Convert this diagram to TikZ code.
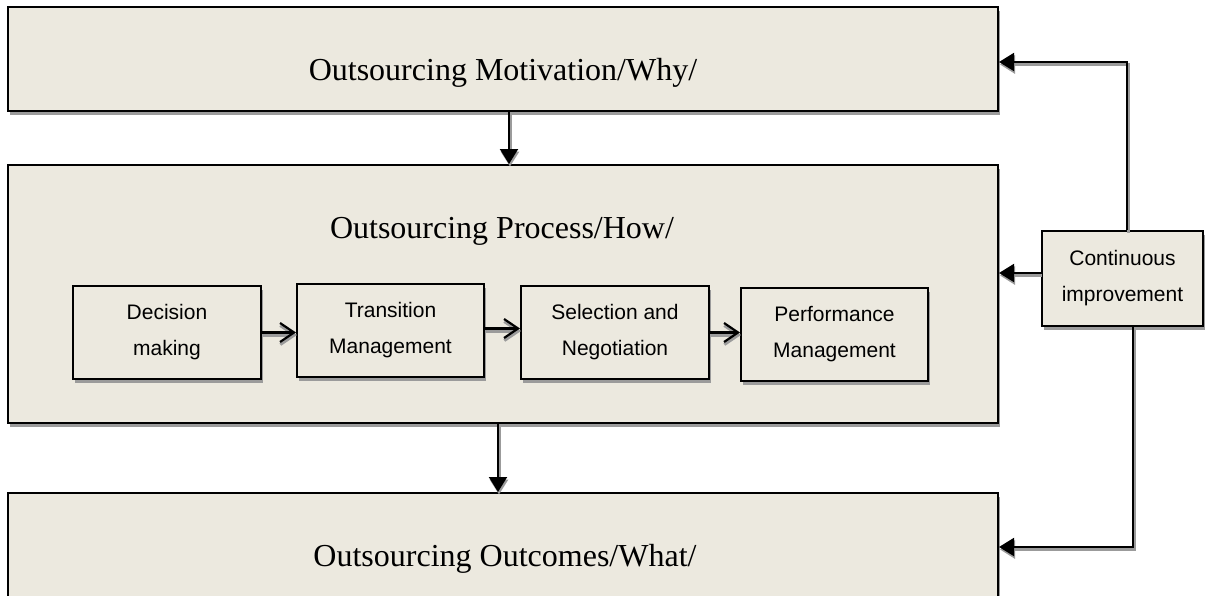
\documentclass[tikz,border=0pt]{standalone}
\usepackage{fontspec}
\setmainfont{Liberation Serif}
\setsansfont{Liberation Sans}
\usetikzlibrary{arrows.meta,shadows}
\definecolor{boxfill}{RGB}{236,233,223}
\definecolor{shade}{RGB}{155,155,155}
\begin{document}
\begin{tikzpicture}[x=0.5pt,y=-0.5pt,
  panel/.style={draw=black, line width=1pt, fill=boxfill, inner sep=0pt,
    drop shadow={shadow xshift=0.75pt, shadow yshift=-2pt, fill=shade, opacity=1}},
  stage/.style={panel, align=center, font=\fontsize{10.5pt}{18pt}\selectfont\sffamily},
  heading/.style={anchor=base, inner sep=0pt, font=\fontsize{16pt}{19pt}\selectfont},
  castshade/.style={preaction={draw=shade, line width=1.5pt, transform canvas={xshift=0.5pt, yshift=-1.25pt}}},
  flow/.style={line width=1pt, castshade, -{Triangle[length=7.5pt,width=9pt]}},
  feed/.style={line width=1pt, castshade, -{Triangle[length=7.5pt,width=9pt]}},
  chain/.style={line width=1.1pt, castshade, -{Straight Barb[length=7pt,width=9.5pt]}}
]
\useasboundingbox (0,0) rectangle (1205,595);

% three main panels
\node[panel, minimum width=495pt, minimum height=52pt] (top) at (503,59) {};
\node[panel, minimum width=495pt, minimum height=129pt] (mid) at (503,294) {};
\node[panel, minimum width=495pt, minimum height=52pt] (bot) at (503,545) {};

\node[heading] (toptxt) at (503,80) {Outsourcing Motivation/Why/};
\node[heading] (midtxt) at (502,238) {Outsourcing Process/How/};
\node[heading] (bottxt) at (505,566) {Outsourcing Outcomes/What/};

% process stages
\node[stage, minimum width=94pt, minimum height=46.5pt] (dec) at (167,332.5) {Decision\\making};
\node[stage, minimum width=93.5pt, minimum height=46.5pt] (tra) at (390.5,330.5) {Transition\\Management};
\node[stage, minimum width=94pt, minimum height=46.5pt] (sel) at (615,332.5) {Selection and\\Negotiation};
\node[stage, minimum width=93.5pt, minimum height=46.5pt] (per) at (834.5,334.5) {Performance\\Management};

% feedback box
\node[stage, minimum width=80.5pt, minimum height=47.5pt] (ci) at (1122.5,278.5) {Continuous\\improvement};

% stage chain
\draw[chain] (dec.east) -- (dec.east -| tra.west);
\draw[chain] ([yshift=1pt]tra.east) -- ([yshift=1pt]tra.east -| sel.west);
\draw[chain] (sel.east) -- (sel.east -| per.west);

% main flow
\draw[flow] ([xshift=3pt]top.south) -- ([xshift=3pt]top.south |- mid.north);
\draw[flow] ([xshift=-2.5pt]mid.south) -- ([xshift=-2.5pt]mid.south |- bot.north);

% continuous improvement feedback
\draw[feed] ([xshift=2.25pt]ci.north) |- ([yshift=-1.5pt]top.east);
\draw[feed] ([yshift=2.75pt]ci.west) -- ([yshift=2.75pt]ci.west -| mid.east);
\draw[feed] ([xshift=5.25pt]ci.south) |- ([yshift=-1pt]bot.east);
\end{tikzpicture}
\end{document}
